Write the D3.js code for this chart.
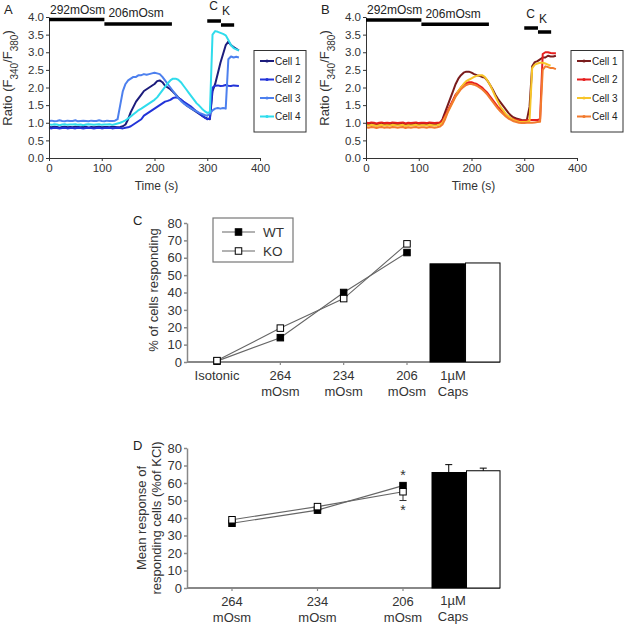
<!DOCTYPE html>
<html><head><meta charset="utf-8">
<script src="https://cdn.jsdelivr.net/npm/d3@7"></script>
<style>body{margin:0;background:#fff}svg{display:block;font-family:"Liberation Sans",Arial,sans-serif}</style>
</head><body><script>
// ---------- DATA ----------
const timeS = [0,5,10,15,20,25,30,35,40,45,50,55,60,65,70,75,80,85,90,95,100,105,110,115,120,125,130,135,140,145,150,155,160,165,170,175,180,185,190,195,200,205,210,215,220,225,230,235,240,245,250,255,260,265,270,275,280,285,290,295,300,305,310,315,320,325,330,335,340,345,350,355,360];
const timeTicks = [0,100,200,300,400];
const ratioTicks = [0,0.5,1,1.5,2,2.5,3,3.5,4];
const cellNames = ["Cell 1","Cell 2","Cell 3","Cell 4"];

const cellA1 = [0.88,0.87,0.89,0.88,0.86,0.88,0.89,0.87,0.88,0.87,0.89,0.88,0.87,0.88,0.89,0.86,0.88,0.87,0.88,0.89,0.87,0.88,0.88,0.87,0.89,0.88,0.87,0.88,0.90,
 0.95,1.10,1.30,1.45,1.60,1.70,1.80,1.90,1.95,2.00,2.05,2.10,2.18,2.20,2.15,2.05,2.00,1.95,1.88,1.80,1.72,1.65,1.58,1.50,1.45,1.40,1.35,1.30,1.25,1.20,1.15,1.12,1.10,1.90,2.10,2.40,2.70,2.95,3.20,3.30,3.20,3.15,3.10,3.05];
const cellA2 = [0.85,0.84,0.86,0.85,0.84,0.85,0.86,0.84,0.85,0.85,0.84,0.86,0.85,0.84,0.85,0.86,0.85,0.84,0.85,0.86,0.84,0.85,0.85,0.86,0.84,0.85,0.86,0.85,0.84,0.86,0.87,
 0.90,0.95,1.00,1.05,1.10,1.20,1.25,1.30,1.35,1.40,1.45,1.50,1.55,1.60,1.62,1.65,1.70,1.72,1.70,1.66,1.60,1.55,1.50,1.45,1.38,1.32,1.26,1.20,1.15,1.10,1.12,2.00,2.05,2.06,2.04,2.05,2.07,2.05,2.04,2.06,2.05,2.04];
const cellA3 = [1.05,1.06,1.04,1.05,1.07,1.05,1.04,1.06,1.05,1.05,1.07,1.04,1.05,1.06,1.05,1.04,1.06,1.05,1.05,1.07,1.05,1.04,1.06,1.05,1.05,1.06,
 1.10,1.50,1.90,2.10,2.20,2.25,2.30,2.30,2.35,2.35,2.38,2.36,2.38,2.40,2.42,2.40,2.38,2.30,2.20,2.10,2.00,1.90,1.80,1.70,1.62,1.55,1.50,1.45,1.40,1.36,1.32,1.28,1.25,1.22,1.20,1.25,1.35,1.40,1.42,1.40,1.42,1.40,2.80,2.88,2.85,2.87,2.85];
const cellA4 = [0.95,0.94,0.96,0.95,0.93,0.95,0.96,0.94,0.95,0.95,0.96,0.94,0.95,0.93,0.95,0.96,0.95,0.94,0.95,0.96,0.94,0.95,0.95,0.96,0.94,0.96,
 0.98,1.00,1.03,1.07,1.12,1.18,1.24,1.30,1.36,1.40,1.45,1.50,1.55,1.60,1.65,1.72,1.82,1.92,2.02,2.12,2.20,2.25,2.25,2.22,2.15,2.05,1.95,1.85,1.75,1.65,1.55,1.48,1.40,1.33,1.28,1.30,3.50,3.60,3.58,3.55,3.52,3.48,3.35,3.20,3.12,3.08,3.05];

const cellB1 = [0.97,0.96,0.98,0.97,0.95,0.97,0.98,0.96,0.97,0.96,0.98,0.97,0.96,0.97,0.98,0.95,0.97,0.96,0.97,0.98,0.96,0.97,0.97,0.96,0.98,0.97,0.96,0.97,0.99,
 1.10,1.30,1.50,1.70,1.90,2.10,2.25,2.35,2.42,2.45,2.45,2.42,2.38,2.35,2.33,2.30,2.28,2.20,2.08,1.95,1.80,1.68,1.58,1.48,1.38,1.28,1.20,1.15,1.12,1.10,1.08,1.07,1.08,1.45,2.60,2.72,2.75,2.80,2.85,2.85,2.90,2.88,2.88,2.90];
const cellB2 = [1.00,0.99,1.01,1.00,0.98,1.00,1.01,0.99,1.00,0.99,1.01,1.00,0.99,1.00,1.01,0.98,1.00,0.99,1.00,1.01,0.99,1.00,1.00,0.99,1.01,1.00,0.99,1.00,1.01,
 1.05,1.20,1.35,1.50,1.65,1.80,1.90,2.00,2.08,2.12,2.15,2.15,2.12,2.10,2.05,2.00,1.92,1.85,1.75,1.65,1.55,1.45,1.38,1.30,1.22,1.16,1.12,1.10,1.08,1.07,1.06,1.06,1.07,1.08,1.08,1.08,1.08,1.10,2.95,3.00,3.00,2.98,2.97,2.97];
const cellB3 = [0.93,0.92,0.94,0.93,0.91,0.93,0.94,0.92,0.93,0.92,0.94,0.93,0.92,0.93,0.94,0.91,0.93,0.92,0.93,0.94,0.92,0.93,0.93,0.92,0.94,0.93,0.92,0.93,0.95,
 1.00,1.15,1.30,1.45,1.60,1.75,1.90,2.00,2.10,2.18,2.22,2.26,2.30,2.33,2.35,2.35,2.30,2.20,2.08,1.92,1.75,1.60,1.45,1.35,1.25,1.18,1.12,1.08,1.05,1.03,1.02,1.02,1.03,1.05,2.55,2.65,2.68,2.70,2.70,2.68,2.65,2.62,null,null];
const cellB4 = [0.87,0.86,0.88,0.87,0.85,0.87,0.88,0.86,0.87,0.86,0.88,0.87,0.86,0.87,0.88,0.85,0.87,0.86,0.87,0.88,0.86,0.87,0.87,0.86,0.88,0.87,0.86,0.87,0.89,
 0.95,1.10,1.30,1.45,1.60,1.75,1.85,1.95,2.02,2.07,2.10,2.10,2.08,2.05,2.00,1.95,1.88,1.80,1.70,1.60,1.50,1.40,1.32,1.25,1.18,1.12,1.08,1.04,1.02,1.00,0.99,0.99,1.00,1.00,1.00,1.01,1.02,1.03,2.50,2.60,2.58,2.55,2.55,2.52];

const stimLabels = ["292mOsm","206mOsm","C","K"];
const stimStart = [0,105,300,326];
const stimEnd = [105,233,326,351];

const catsC = ["Isotonic","264","234","206"];
const wtC = [0.5,14,40,63];
const koC = [0.8,19.5,36.5,68];
const capsC = [56.5,57];

const catsD = ["264","234","206"];
const wtD = [37,44.5,58.5];
const koD = [39,46.5,55];
const koErrD = [0,0,5];
const capsD = [66,67];
const capsErrD = [4.5,1.5];
const pctTicks = [0,10,20,30,40,50,60,70,80];
const seriesNames = ["WT","KO"];

// ---------- DRAW ----------
const svg = d3.select("body").append("svg").attr("width",629).attr("height",624);

function styleAxis(g, fs, col, sw){
  g.selectAll(".domain").attr("stroke",col).attr("stroke-width",sw);
  g.selectAll(".tick line").attr("stroke",col).attr("stroke-width",sw);
  g.selectAll(".tick text").attr("fill","#333").style("font-size",fs+"px").style("font-family","'Liberation Sans',Arial,sans-serif");
}

function tracePanel(opt){
  const x = d3.scaleLinear().domain([0,400]).range([opt.x0, opt.x0+211]);
  const y = d3.scaleLinear().domain([0,4]).range([158,17]);
  const g = svg.append("g");
  const line = d3.line().defined(d=>d[1]!=null).x(d=>x(d[0])).y(d=>y(d[1]));
  opt.series.forEach((s,i)=>{
    g.append("path").attr("d", line(timeS.map((t,j)=>[t,s[j]])))
      .attr("fill","none").attr("stroke",opt.colors[i]).attr("stroke-width",2).attr("stroke-linejoin","round");
  });
  g.append("g").attr("transform","translate(0,158)")
    .call(d3.axisBottom(x).tickValues(timeTicks).tickSize(3).tickSizeOuter(0).tickPadding(3))
    .call(styleAxis,11.5,"#333",1);
  g.append("g").attr("transform",`translate(${opt.x0},0)`)
    .call(d3.axisLeft(y).tickValues(ratioTicks).tickFormat(d3.format(".1f")).tickSize(3).tickSizeOuter(0).tickPadding(2))
    .call(styleAxis,11.5,"#333",1);
  // stimulus bars
  const barY = [opt.by[0],opt.by[1],opt.by[2],opt.by[3]];
  stimLabels.forEach((lab,i)=>{
    g.append("line").attr("x1",x(stimStart[i])).attr("x2",x(stimEnd[i]))
      .attr("y1",barY[i]).attr("y2",barY[i]).attr("stroke","#000").attr("stroke-width",3.5);
  });
  g.append("text").attr("x",x(stimStart[0])+1).attr("y",opt.ty[0]).text(stimLabels[0]).style("font-size","12px").attr("fill","#222");
  g.append("text").attr("x",x(stimStart[1])+4).attr("y",opt.ty[1]).text(stimLabels[1]).style("font-size","12px").attr("fill","#222");
  g.append("text").attr("x",x(stimStart[2])+2).attr("y",opt.ty[2]).text(stimLabels[2]).style("font-size","12px").attr("fill","#222");
  g.append("text").attr("x",x(stimStart[3])+1).attr("y",opt.ty[3]).text(stimLabels[3]).style("font-size","12px").attr("fill","#222");
  // axis titles
  g.append("text").attr("x",x(200)+2).attr("y",190).attr("text-anchor","middle").text("Time (s)").style("font-size","12px").attr("fill","#333");
  const yl = g.append("text").attr("transform",`translate(${opt.x0-37},78) rotate(-90)`).attr("text-anchor","middle").style("font-size","13px").attr("fill","#333");
  yl.append("tspan").text("Ratio (F");
  yl.append("tspan").attr("baseline-shift","sub").style("font-size","10px").text("340");
  yl.append("tspan").text("/F");
  yl.append("tspan").attr("baseline-shift","sub").style("font-size","10px").text("380");
  yl.append("tspan").text(")");
  g.append("text").attr("x",opt.x0-45).attr("y",14).text(opt.letter).style("font-size","13px").attr("fill","#222");
  // legend
  const lx = opt.x0+205;
  g.append("rect").attr("x",lx).attr("y",50.5).attr("width",52).attr("height",81.5).attr("fill","#fff").attr("stroke","#333").attr("stroke-width",1);
  cellNames.forEach((n,i)=>{
    const yy = 61 + i*18.5;
    g.append("line").attr("x1",lx+6).attr("x2",lx+20).attr("y1",yy).attr("y2",yy).attr("stroke",opt.colors[i]).attr("stroke-width",2);
    g.append("circle").attr("cx",lx+13).attr("cy",yy).attr("r",1.6).attr("fill",opt.colors[i]);
    g.append("text").attr("x",lx+21).attr("y",yy+3.5).text(n).style("font-size","10px").attr("fill","#222");
  });
}

tracePanel({x0:49, letter:"A", series:[cellA1,cellA2,cellA3,cellA4],
  colors:["#1c1c7c","#2233d8","#4d80ee","#2fdcec"], by:[19.5,24,21,25], ty:[14,17,10,15]});
tracePanel({x0:366, letter:"B", series:[cellB1,cellB2,cellB3,cellB4],
  colors:["#7a1c1c","#e61e1e","#f7c52a","#f27a2e"], by:[20,24.3,28,32], ty:[14,18,18,23]});

// ----- panel C & D -----
function summaryPanel(opt){
  const y = d3.scaleLinear().domain([0,80]).range([opt.y0, opt.y80]);
  const x = d3.scalePoint().domain(opt.cats).range(opt.xr);
  const xb = d3.scaleBand().domain(seriesNames).range([opt.bx0, 500]).paddingInner(0.03);
  const g = svg.append("g");
  // axes
  g.append("g").attr("transform",`translate(187,0)`)
    .call(d3.axisLeft(y).tickValues(pctTicks).tickSize(3).tickSizeOuter(0).tickPadding(2))
    .call(styleAxis,13,"#888",1.5);
  g.append("line").attr("x1",187).attr("x2",500).attr("y1",opt.y0).attr("y2",opt.y0).attr("stroke","#888").attr("stroke-width",1.8);
  opt.cats.forEach(c=>{
    g.append("line").attr("x1",x(c)).attr("x2",x(c)).attr("y1",opt.y0).attr("y2",opt.y0+3).attr("stroke","#888").attr("stroke-width",1.2);
  });
  // bars
  seriesNames.forEach((s,i)=>{
    g.append("rect").attr("x",xb(s)).attr("y",y(opt.caps[i])).attr("width",xb.bandwidth()).attr("height",opt.y0-y(opt.caps[i]))
      .attr("fill",i===0?"#000":"#fff").attr("stroke","#000").attr("stroke-width",1);
    if(opt.capsErr){
      const cx = xb(s)+xb.bandwidth()/2;
      const top = y(opt.caps[i]+opt.capsErr[i]);
      g.append("line").attr("x1",cx).attr("x2",cx).attr("y1",y(opt.caps[i])).attr("y2",top).attr("stroke","#000");
      g.append("line").attr("x1",cx-3.5).attr("x2",cx+3.5).attr("y1",top).attr("y2",top).attr("stroke","#000");
    }
  });
  // lines
  const line = d3.line().x((d,i)=>x(opt.cats[i])).y(d=>y(d));
  [opt.wt,opt.ko].forEach(arr=>{
    g.append("path").attr("d",line(arr)).attr("fill","none").attr("stroke","#666").attr("stroke-width",1.1);
  });
  if(opt.koErr){
    opt.koErr.forEach((e,i)=>{
      if(!e) return;
      const cx = x(opt.cats[i]);
      g.append("line").attr("x1",cx).attr("x2",cx).attr("y1",y(opt.ko[i])).attr("y2",y(opt.ko[i]-e)).attr("stroke","#333");
      g.append("line").attr("x1",cx-3.5).attr("x2",cx+3.5).attr("y1",y(opt.ko[i]-e)).attr("y2",y(opt.ko[i]-e)).attr("stroke","#333");
    });
  }
  const sq = 6.5;
  opt.wt.forEach((v,i)=>{
    g.append("rect").attr("x",x(opt.cats[i])-sq/2).attr("y",y(v)-sq/2).attr("width",sq).attr("height",sq).attr("fill","#000").attr("stroke","#000");
  });
  opt.ko.forEach((v,i)=>{
    g.append("rect").attr("x",x(opt.cats[i])-sq/2).attr("y",y(v)-sq/2).attr("width",sq).attr("height",sq).attr("fill","#fff").attr("stroke","#000");
  });
  // category labels
  opt.cats.forEach(c=>{
    const t = g.append("text").attr("text-anchor","middle").style("font-size","13px").attr("fill","#333");
    if(c==="Isotonic"){
      t.append("tspan").attr("x",x(c)).attr("y",opt.y0+18).text(c);
    } else {
      t.append("tspan").attr("x",x(c)).attr("y",opt.y0+18).text(c);
      t.append("tspan").attr("x",x(c)).attr("y",opt.y0+34).text("mOsm");
    }
  });
  const capsX = opt.capsLabelX;
  g.append("text").attr("x",capsX).attr("y",opt.capsLabelY).attr("text-anchor","middle").style("font-size","13px").attr("fill","#333").text("1µM");
  g.append("text").attr("x",capsX).attr("y",opt.capsLabelY+16).attr("text-anchor","middle").style("font-size","13px").attr("fill","#333").text("Caps");
  g.append("text").attr("x",133).attr("y",opt.letterY).text(opt.letter).style("font-size","13px").attr("fill","#222");
  return {g,x,y};
}

const pc = summaryPanel({y0:362, y80:223, cats:catsC, xr:[217,407], bx0:430, wt:wtC, ko:koC, caps:capsC,
  capsLabelX:453, capsLabelY:380, letter:"C", letterY:225});
// C y label
pc.g.append("text").attr("transform","translate(158,290) rotate(-90)").attr("text-anchor","middle").style("font-size","13px").attr("fill","#333").text("% of cells responding");
// C legend
pc.g.append("rect").attr("x",213).attr("y",218).attr("width",80).attr("height",44).attr("fill","#fff").attr("stroke","#777").attr("stroke-width",1.2);
seriesNames.forEach((s,i)=>{
  const yy = 232 + i*19;
  pc.g.append("line").attr("x1",222).attr("x2",255).attr("y1",yy).attr("y2",yy).attr("stroke","#666").attr("stroke-width",1.1);
  pc.g.append("rect").attr("x",238.5-3.25).attr("y",yy-3.25).attr("width",6.5).attr("height",6.5).attr("fill",i===0?"#000":"#fff").attr("stroke","#000");
  pc.g.append("text").attr("x",263).attr("y",yy+5).text(s).style("font-size","13.5px").attr("fill","#333");
});

const pd = summaryPanel({y0:588, y80:448, cats:catsD, xr:[232,403], bx0:432, wt:wtD, ko:koD, koErr:koErrD, caps:capsD, capsErr:capsErrD,
  capsLabelX:453, capsLabelY:605, letter:"D", letterY:450});
const yl2 = pd.g.append("text").attr("transform","translate(146,518) rotate(-90)").attr("text-anchor","middle").style("font-size","13px").attr("fill","#333");
yl2.append("tspan").attr("x",0).attr("dy",0).text("Mean response of");
yl2.append("tspan").attr("x",0).attr("dy",15).text("responding cells (%of KCl)");
// significance stars
pd.g.append("text").attr("x",pd.x("206")).attr("y",pd.y(wtD[2])-6).attr("text-anchor","middle").style("font-size","14px").attr("fill","#333").text("*");
pd.g.append("text").attr("x",pd.x("206")).attr("y",pd.y(koD[2]-koErrD[2])+14).attr("text-anchor","middle").style("font-size","14px").attr("fill","#333").text("*");
</script></body></html>
